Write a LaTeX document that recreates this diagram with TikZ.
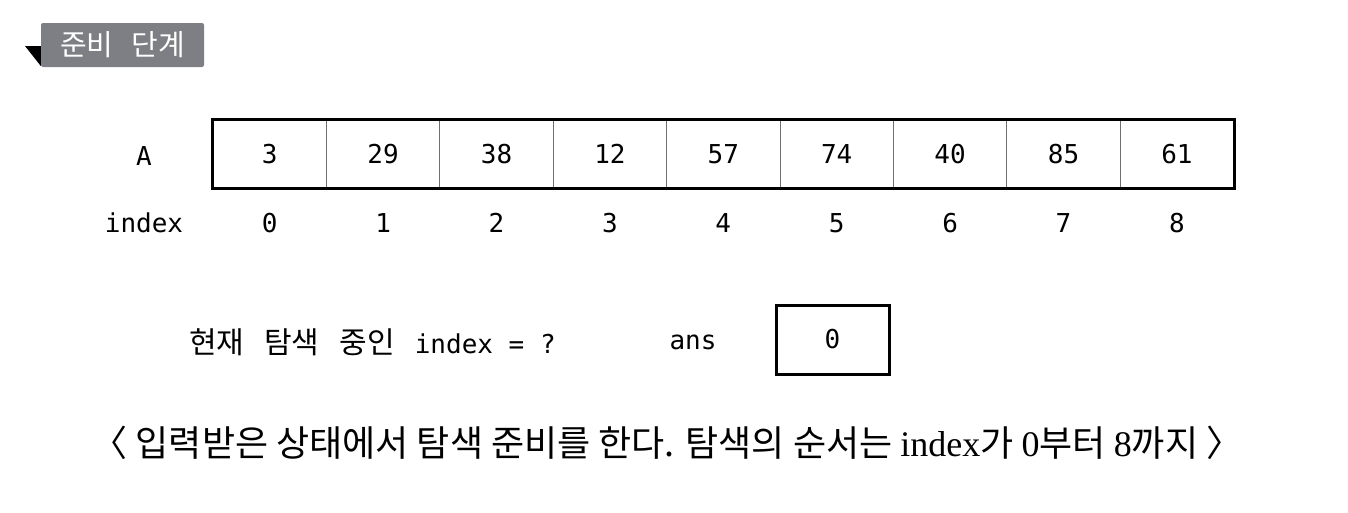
\documentclass[tikz,border=0pt]{standalone}
\usepackage{fontspec}
\setmonofont{DejaVu Sans Mono}
\newfontfamily\kr{Noto Sans CJK KR}
\newfontfamily\serl{Liberation Serif}
\definecolor{labelgray}{HTML}{7E7F84}
\definecolor{divgray}{HTML}{707070}
\begin{document}
\begin{tikzpicture}[x=1pt,y=-1pt,
  mono/.style={font=\ttfamily\fontsize{26}{30}\selectfont},
  cell/.style={draw=divgray, line width=0.8pt, minimum width=113.4pt, minimum height=68pt, inner sep=0pt, mono},
  thickbox/.style={draw=black, line width=3pt},
  tag/.style={fill=labelgray, rounded corners=2pt, minimum width=163pt, minimum height=44pt, inner sep=0pt, text=white, font=\kr\fontsize{29}{32}\selectfont},
  plain/.style={inner sep=0pt, mono}]
\useasboundingbox (0,0) rectangle (1348,512);
% label
\node[tag] (lbl) at (122.5,45) {준비\hspace{18pt}단계};
\fill[black] (25,46) -- (lbl.west |- 0,46) -- (lbl.west |- 0,66) -- cycle;
% array
\foreach \v [count=\i from 0] in {3,29,38,12,57,74,40,85,61} {
  \node[cell] (c\i) at (269.7+\i*113.4,154) {\v};
  \node[plain] (i\i) at (269.7+\i*113.4,223) {\i};
}
\draw[thickbox] (c0.north west) rectangle (c8.south east);
\node[plain] (A) at (144,156) {A};
\node[plain] (idx) at (144,223) {index};
% current line
\node[plain, anchor=west] (cur) at (189,342) {{\kr\fontsize{30}{34}\selectfont 현재\hspace{20pt}탐색\hspace{20pt}중인}\hspace{20pt}index = ?};
\node[plain] (ans) at (693,342) {ans};
\node[plain, thickbox, minimum width=113pt, minimum height=69pt] (ansbox) at (832.5,339.5) {\raisebox{-2pt}{0}};
% bottom text
\node[inner sep=0pt, font=\kr\fontsize{36}{40}\selectfont] (note) at (667,443) {〈 입력받은 상태에서 탐색 준비를 한다. 탐색의 순서는 {\serl index}가 {\serl 0}부터 {\serl 8}까지 〉};
\end{tikzpicture}
\end{document}
